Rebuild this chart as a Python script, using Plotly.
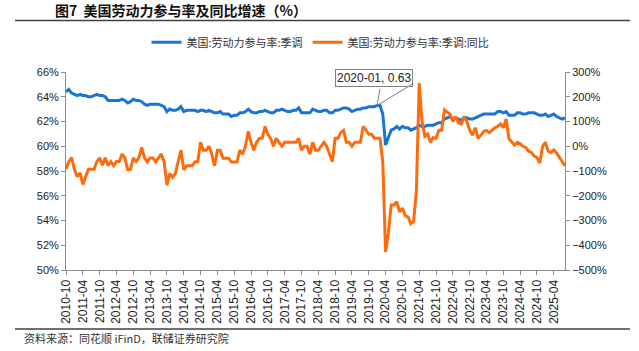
import plotly.graph_objects as go
import pandas as pd

# ---- data ----
months = [d.strftime("%Y-%m") for d in pd.date_range("2010-10-01", "2025-08-01", freq="MS")]

tick_labels = ["2010-10", "2011-04", "2011-10", "2012-04", "2012-10", "2013-04", "2013-10",
               "2014-04", "2014-10", "2015-04", "2015-10", "2016-04", "2016-10", "2017-04",
               "2017-10", "2018-04", "2018-10", "2019-04", "2019-10", "2020-04", "2020-10",
               "2021-04", "2021-10", "2022-04", "2022-10", "2023-04", "2023-10", "2024-04",
               "2024-10", "2025-04"]

# 美国:劳动力参与率:季调 (%)
lfpr = [
    64.4, 64.6, 64.3,
    64.2, 64.1, 64.2, 64.1, 64.1, 64.0, 64.0, 64.1, 64.2, 64.1, 64.1, 64.0,
    63.7, 63.7, 63.7, 63.7, 63.7, 63.8, 63.7, 63.5, 63.6, 63.8, 63.7, 63.7,
    63.6, 63.4, 63.3, 63.4, 63.4, 63.4, 63.4, 63.3, 63.2, 62.8, 63.0, 62.9,
    62.9, 63.0, 63.2, 62.8, 62.9, 62.9, 62.9, 62.9, 62.8, 62.9, 62.9, 62.8,
    62.9, 62.8, 62.7, 62.7, 62.8, 62.6, 62.6, 62.6, 62.4, 62.5, 62.5, 62.7,
    62.7, 62.8, 63.0, 62.8, 62.7, 62.7, 62.8, 62.8, 62.9, 62.8, 62.7, 62.7,
    62.9, 62.9, 63.0, 62.9, 62.8, 62.8, 62.9, 62.9, 63.1, 62.7, 62.7, 62.7,
    62.7, 63.0, 62.9, 62.8, 62.8, 62.9, 62.9, 62.7, 62.7, 62.9, 62.9, 63.0,
    63.1, 63.1, 63.0, 62.8, 62.9, 63.0, 63.0, 63.1, 63.1, 63.2, 63.2, 63.2,
    63.3, 63.3, 62.6, 60.1, 60.7, 61.3, 61.4, 61.6, 61.4, 61.6, 61.5, 61.5,
    61.3, 61.4, 61.5, 61.7, 61.6, 61.6, 61.7, 61.7, 61.7, 61.8, 61.9, 61.9,
    62.2, 62.3, 62.4, 62.2, 62.3, 62.2, 62.1, 62.3, 62.3, 62.2, 62.2, 62.3,
    62.4, 62.5, 62.6, 62.6, 62.6, 62.6, 62.6, 62.8, 62.8, 62.7, 62.8, 62.5,
    62.5, 62.5, 62.7, 62.7, 62.6, 62.6, 62.7, 62.7, 62.7, 62.6, 62.5, 62.5,
    62.6, 62.4, 62.5, 62.6, 62.4, 62.3, 62.2, 62.3,
]

# 美国:劳动力参与率:季调:同比 (as displayed on right axis, %)
lfpr_yoy = [
    -92, -62, -46,
    -93, -123, -108, -154, -123, -93, -93, -93, -62, -47, -77, -47,
    -78, -62, -78, -62, -62, -31, -47, -94, -93, -47, -62, -47,
    -5, -47, -63, -47, -47, -63, -47, -31, -63, -157, -110, -126,
    -110, -63, -16, -95, -79, -79, -79, -63, -63, 16, -16, -16,
    0, -32, -79, -16, -16, -48, -48, -48, -64, -64, -64, -16,
    -32, 0, 60, 16, -16, 16, 32, 32, 80, 48, 32, 0,
    32, 16, 0, 16, 16, 16, 16, 16, 32, -16, 0, 0,
    -32, 16, -16, -16, 0, 16, 0, -32, -63, 32, 32, 55,
    64, 16, 16, 0, 16, 16, 16, 80, 64, 48, 48, 32,
    32, 32, -63, -427, -350, -237, -237, -224, -265, -250, -280, -285,
    -313, -305, -176, 255, 100, 40, 49, 16, 35, 32, 65, 65,
    147, 140, 130, 100, 120, 95, 90, 120, 100, 65, 45, 75,
    32, 45, 60, 64, 55, 64, 75, 80, 90, 75, 110, 30,
    16, 5, 16, 10, 0, -5, -20, -25, -40, -45, -68, 0,
    16, -20, -25, -15, -27, -45, -64, -80,
]

name_rate = "美国:劳动力参与率:季调"
name_yoy = "美国:劳动力参与率:季调:同比"
callout_month = "2020-01"
callout_text = "2020-01, 0.63"

# ---- figure ----
BLUE = "#1a75d2"
ORANGE = "#ff6a0d"
AXIS = "#8c8c8c"
LAT = "Liberation Sans, Arial, sans-serif"
CJK = "Noto Sans CJK SC, sans-serif"

fig = go.Figure()
fig.add_trace(go.Scatter(x=months, y=lfpr, name=name_rate, mode="lines",
                         line=dict(color=BLUE, width=3), yaxis="y"))
fig.add_trace(go.Scatter(x=months, y=lfpr_yoy, name=name_yoy, mode="lines",
                         line=dict(color=ORANGE, width=3), yaxis="y2"))

callout_y = lfpr[months.index(callout_month)]

fig.update_layout(
    width=639, height=351,
    margin=dict(l=66, r=74, t=72, b=81),
    paper_bgcolor="white", plot_bgcolor="white",
    showlegend=True,
    legend=dict(orientation="h", x=0.51, xanchor="center", y=1.15, yanchor="middle",
                font=dict(family=CJK, size=11, color="#333"), itemwidth=30,
                bgcolor="rgba(0,0,0,0)"),
    title=dict(text="<b>图7  美国劳动力参与率及同比增速（%）</b>",
               x=55 / 639, xanchor="left", y=1 - 11 / 351, yanchor="middle",
               font=dict(family=CJK, size=14, color="#111")),
    xaxis=dict(type="category", range=[0, len(months) - 1], tickmode="array",
               tickvals=tick_labels, ticktext=tick_labels, tickangle=-90,
               showline=True, linecolor=AXIS, linewidth=1, ticks="outside",
               ticklen=4, tickcolor=AXIS, showgrid=False, zeroline=False,
               tickfont=dict(family=LAT, size=12, color="#222")),
    yaxis=dict(range=[50, 66], dtick=2, tick0=50, ticksuffix="%",
               showline=True, linecolor=AXIS, linewidth=1, ticks="outside",
               ticklen=4, tickcolor=AXIS, showgrid=False, zeroline=False,
               tickfont=dict(family=LAT, size=11, color="#222")),
    yaxis2=dict(range=[-500, 300], dtick=100, tick0=-500, ticksuffix="%",
                overlaying="y", side="right",
                showline=True, linecolor=AXIS, linewidth=1, ticks="outside",
                ticklen=4, tickcolor=AXIS, showgrid=False, zeroline=False,
                tickfont=dict(family=LAT, size=11, color="#222")),
)

# callout box and pointer lines
fig.add_annotation(x=callout_month, y=callout_y, xref="x", yref="y",
                   text=callout_text, showarrow=False, xshift=-3, yshift=27,
                   font=dict(family=LAT, size=12, color="#222"),
                   bgcolor="white", bordercolor="#7f7f7f", borderwidth=1, borderpad=1)
for ax, ay in [(3, -18), (38, -23)]:
    fig.add_annotation(x=callout_month, y=callout_y, xref="x", yref="y",
                       text="", showarrow=True, arrowhead=0, arrowwidth=1,
                       arrowcolor="#7f7f7f", ax=ax, ay=ay, standoff=0, startstandoff=0)

# header / footer rules
fig.add_shape(type="line", xref="paper", yref="paper",
              x0=(15 - 66) / 499, x1=(630 - 66) / 499, y0=(270 - 20.5) / 198, y1=(270 - 20.5) / 198,
              line=dict(color="#404040", width=1.5))
fig.add_shape(type="line", xref="paper", yref="paper",
              x0=(15 - 66) / 499, x1=(630 - 66) / 499, y0=(270 - 329) / 198, y1=(270 - 329) / 198,
              line=dict(color="#404040", width=1.5))

fig.add_annotation(xref="paper", yref="paper", x=(22 - 66) / 499, y=(270 - 338) / 198,
                   xanchor="left", yanchor="middle", showarrow=False,
                   text="资料来源：同花顺 iFinD，联储证券研究院",
                   font=dict(family=CJK, size=11, color="#333"))

fig.write_html("out.html")
